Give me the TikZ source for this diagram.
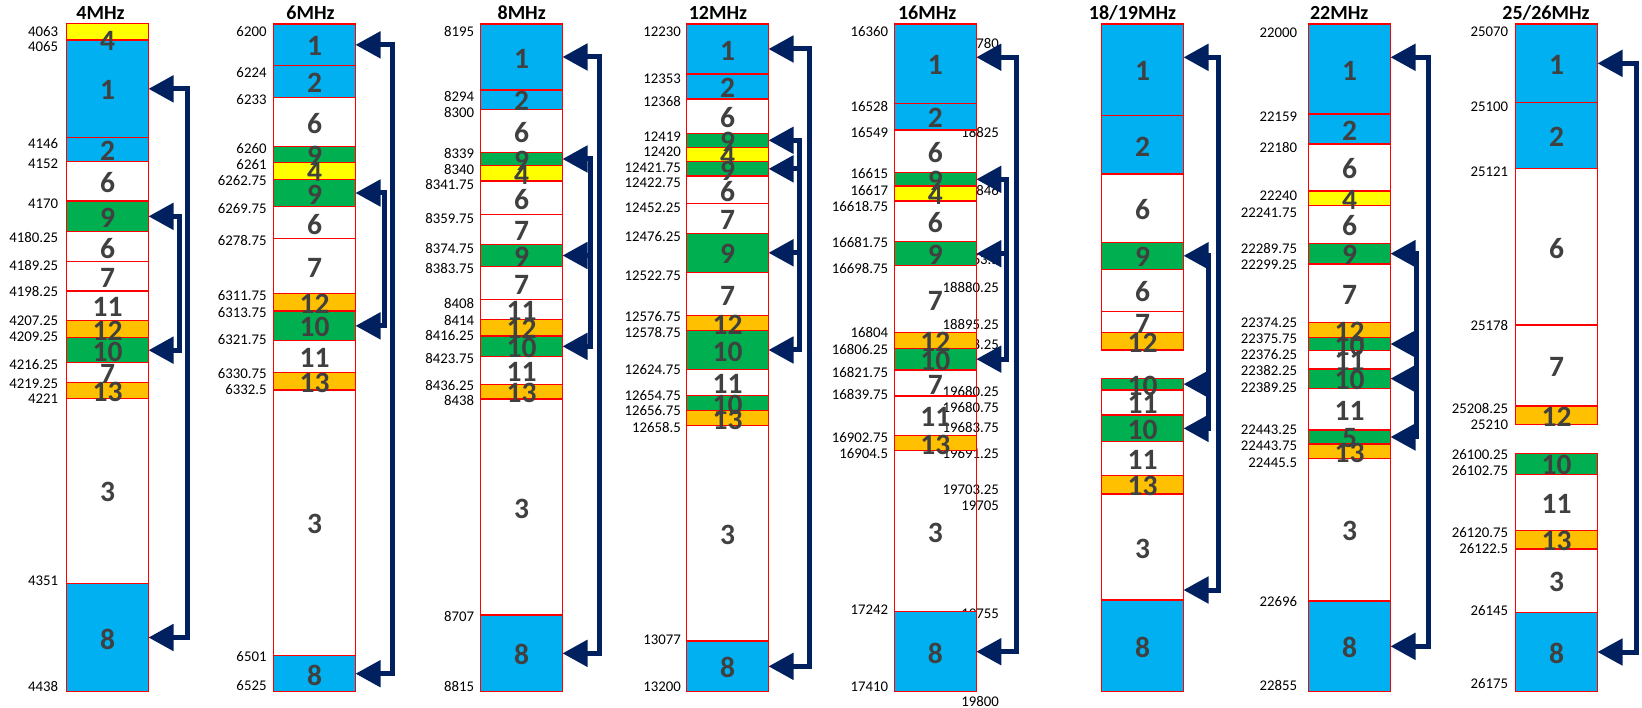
\documentclass[tikz,border=0pt]{standalone}
\usepackage{fontspec}
\setmainfont{Carlito}
\usetikzlibrary{arrows.meta}

\definecolor{segblue}{HTML}{00B0F0}
\definecolor{seggreen}{HTML}{00B050}
\definecolor{segyellow}{HTML}{FFFF00}
\definecolor{segorange}{HTML}{FFC000}
\definecolor{linkblue}{HTML}{002060}
\definecolor{numgray}{HTML}{404040}
\definecolor{edgered}{HTML}{FF0000}

\tikzset{
  seg/.style={draw=edgered, line width=1.5pt, inner sep=0pt, outer sep=0pt, minimum width=82pt},
  segnum/.style={font=\bfseries\fontsize{29.5}{30}\selectfont, text=numgray, inner sep=0pt},
  freq/.style={font=\fontsize{14.8}{15}\selectfont, anchor=east, inner sep=0pt},
  band/.style={font=\bfseries\fontsize{20}{22}\selectfont, anchor=base, inner sep=0pt},
  link/.style={draw=linkblue, line width=5pt, line join=miter},
  both/.style={link, {Triangle[length=25pt,width=26pt]}-{Triangle[length=25pt,width=26pt]}},
  single/.style={link, -{Triangle[length=25pt,width=26pt]}},
}

% one column of channel segments: name prefix, left x, list top/bottom/fill/number/extra drop
\newcommand\bandcolumn[3]{%
  \foreach \segtop/\segbot/\segfill/\segtxt/\segoff [count=\i] in {#3} {
    \node[seg, fill=\segfill, minimum height={(\segbot-\segtop)*1pt}]
      (#1s\i) at ({#2+41},{(\segtop+\segbot)/2}) {};
  }
  \foreach \segtop/\segbot/\segfill/\segtxt/\segoff [count=\i] in {#3} {
    \node[segnum] (#1d\i) at ([yshift={-(1.5+\segoff)*1pt}]#1s\i.center) {\segtxt};
  }
}
% frequency marks: name prefix, right x, list value/y
\newcommand\freqmarks[3]{%
  \foreach \fval/\fy [count=\i] in {#3} {
    \node[freq] (#1f\i) at (#2,\fy) {\fval};
  }
}

\begin{document}
\begin{tikzpicture}[x=1pt,y=-1pt]
\useasboundingbox (0,0) rectangle (1642,708);

% band titles
\node[band] (t1) at (100.5,19.7) {4MHz};
\node[band] (t2) at (310.5,19.7) {6MHz};
\node[band] (t3) at (521.7,19.7) {8MHz};
\node[band] (t4) at (718,19.7) {12MHz};
\node[band] (t5) at (927.2,19.7) {16MHz};
\node[band] (t6) at (1132.5,19.7) {18/19MHz};
\node[band] (t7) at (1339.2,19.7) {22MHz};
\node[band] (t8) at (1546,19.7) {25/26MHz};

% frequency marks
\freqmarks{c1}{58.3}{4063/31.7, 4065/46.7, 4146/143.3, 4152/164, 4170/203.3, 4180.25/237.3, 4189.25/265.7, 4198.25/291.7, 4207.25/321, 4209.25/336.7, 4216.25/364.3, 4219.25/383.3, 4221/399, 4351/581, 4438/686.7}
\freqmarks{c2}{266.7}{6200/31.7, 6224/72.7, 6233/99.3, 6260/148.3, 6261/164.3, 6262.75/181, 6269.75/209, 6278.75/240.7, 6311.75/296, 6313.75/312.7, 6321.75/340, 6330.75/373.3, 6332.5/390, 6501/656.7, 6525/686}
\freqmarks{c3}{474.3}{8195/31.7, 8294/96.7, 8300/112.7, 8339/153.3, 8340/169.3, 8341.75/185, 8359.75/218.3, 8374.75/248.3, 8383.75/268.3, 8408/304, 8414/320.7, 8416.25/336, 8423.75/358.3, 8436.25/385.7, 8438/401, 8707/616, 8815/686.7}
\freqmarks{c4}{681}{12230/31.7, 12353/78.3, 12368/101.7, 12419/136.7, 12420/151.7, 12421.75/167.3, 12422.75/182.7, 12452.25/207.3, 12476.25/236.7, 12522.75/276, 12576.75/316.7, 12578.75/332.7, 12624.75/369.3, 12654.75/396, 12656.75/411, 12658.5/427.7, 13077/639.3, 13200/686.7}
\freqmarks{c5}{888.3}{16360/31.7, 16528/106.7, 16549/132.7, 16615/174, 16617/190.7, 16618.75/206.7, 16681.75/242.7, 16698.75/268.3, 16804/332.7, 16806.25/349.3, 16821.75/372.7, 16839.75/395, 16902.75/437.7, 16904.5/454, 17242/609.3, 17410/686.7}
% 18/19MHz marks, set under the 16MHz column
\freqmarks{c6}{999}{18780/44, 18825/132.7, 18846/190.7, 18863.5/260, 18880.25/287.3, 18895.25/325, 18898.25/345, 19680.25/391.7, 19680.75/407.3, 19683.75/427.3, 19691.25/454, 19703.25/489.3, 19705/506, 19755/614, 19800/701.7}
\freqmarks{c7}{1297.3}{22000/32.3, 22159/116.7, 22180/147.7, 22240/196, 22241.75/212.3, 22289.75/248.3, 22299.25/265, 22374.25/322.7, 22375.75/339, 22376.25/354.3, 22382.25/370.7, 22389.25/387.3, 22443.25/430, 22443.75/446, 22445.5/462.8, 22696/601.7, 22855/685}
\freqmarks{c8}{1508.3}{25070/31.7, 25100/106.7, 25121/171.7, 25178/326, 25208.25/408.3, 25210/424.3, 26100.25/454.7, 26102.75/470.7, 26120.75/532.3, 26122.5/549, 26145/611, 26175/683.3}

% channel columns
\bandcolumn{c1}{66.5}{23.3/40/segyellow/4/8, 40/137.7/segblue/1/0, 137.7/161.7/segblue/2/0, 161.7/201/none/6/0, 201/231.7/seggreen/9/0, 231.7/261.7/none/6/0, 261.7/291/none/7/0, 291/320.7/none/11/0, 320.7/337.7/segorange/12/0, 337.7/362.7/seggreen/10/0, 362.7/382.3/none/7/0, 382.3/398.3/segorange/13/0, 398.3/583.3/none/3/0, 583.3/691.7/segblue/8/0}
\bandcolumn{c2}{273.5}{24/65.7/segblue/1/0, 65.7/97.7/segblue/2/0, 97.7/146.7/none/6/0, 146.7/162.3/seggreen/9/0, 162.3/179.3/segyellow/4/0, 179.3/206.7/seggreen/9/0, 206.7/238.7/none/6/0, 238.7/293.3/none/7/0, 293.3/311/segorange/12/0, 311/340.7/seggreen/10/0, 340.7/372.7/none/11/0, 372.7/390/segorange/13/0, 390/655.7/none/3/0, 655.7/691.7/segblue/8/0}
\bandcolumn{c3}{480.5}{24/90/segblue/1/0, 90/109.3/segblue/2/0, 109.3/152.3/none/6/0, 152.3/165.7/seggreen/9/0, 165.7/181/segyellow/4/0, 181/214.3/none/6/0, 214.3/244.3/none/7/0, 244.3/266.7/seggreen/9/0, 266.7/299.3/none/7/0, 299.3/319.3/none/11/0, 319.3/336/segorange/12/0, 336/356.7/seggreen/10/0, 356.7/384.3/none/11/0, 384.3/399/segorange/13/0, 399/615/none/3/0, 615/691.7/segblue/8/0}
\bandcolumn{c4}{686.5}{24/74/segblue/1/0, 74/99/segblue/2/0, 99/133.3/none/6/0, 133.3/147.3/seggreen/9/0, 147.3/161.7/segyellow/4/0, 161.7/176/seggreen/9/0, 176/203.3/none/6/0, 203.3/233.3/none/7/0, 233.3/272.3/seggreen/9/0, 272.3/315.7/none/7/0, 315.7/330.7/segorange/12/0, 330.7/369.3/seggreen/10/0, 369.3/395.7/none/11/0, 395.7/410.7/seggreen/10/0, 410.7/425.7/segorange/13/0, 425.7/641/none/3/0, 641/691.7/segblue/8/0}
\bandcolumn{c5}{894.3}{24/103.3/segblue/1/0, 103.3/130/segblue/2/0, 130/172.7/none/6/0, 172.7/186/seggreen/9/0, 186/201/segyellow/4/0, 201/241.7/none/6/0, 241.7/265.7/seggreen/9/0, 265.7/332.7/none/7/0, 332.7/348.3/segorange/12/0, 348.3/370/seggreen/10/0, 370/396/none/7/0, 396/435.7/none/11/0, 435.7/450.7/segorange/13/0, 450.7/611.7/none/3/0, 611.7/691.7/segblue/8/0}
\bandcolumn{c6}{1101.5}{24/115.7/segblue/1/0, 115.7/174/segblue/2/0, 174/242.3/none/6/0, 242.3/269.3/seggreen/9/0, 269.3/311.7/none/6/0, 311.7/332.7/none/7/0, 332.7/350/segorange/12/0, 378.3/390/seggreen/10/0, 390/415/none/11/0, 415/441.7/seggreen/10/0, 441.7/475.7/none/11/0, 475.7/494/segorange/13/0, 494/600/none/3/0, 600/691.7/segblue/8/0}
\bandcolumn{c7}{1308.5}{24/114/segblue/1/0, 114/144/segblue/2/0, 144/191/none/6/0, 191/205.7/segyellow/4/0, 205.7/243.3/none/6/0, 243.3/264/seggreen/9/0, 264/322.7/none/7/0, 322.7/337.3/segorange/12/0, 337.3/350.7/seggreen/10/0, 350.7/369/none/11/0, 369/388.3/seggreen/10/0, 388.3/430/none/11/0, 430/444/seggreen/5/0, 444/458.3/segorange/13/0, 458.3/601/none/3/0, 601/691.7/segblue/8/0}
\bandcolumn{c8}{1515.5}{24/102.7/segblue/1/0, 102.7/168.3/segblue/2/0, 168.3/325/none/6/0, 325/406/none/7/0, 406/424.3/segorange/12/0, 453.3/474.3/seggreen/10/0, 474.3/530.7/none/11/0, 530.7/549/segorange/13/0, 549/612.3/none/3/0, 612.3/691.7/segblue/8/0}

% links: 4MHz
\draw[both] (c1s2.east) -- ++(38.5,0) |- (c1s14.east);
\draw[both] (c1s5.east) -- ++(30.5,0) |- (c1s10.east);
% 6MHz
\draw[both] (c2s1.east) -- ++(37.2,0) |- (c2s14.east);
\draw[both] (c2s6.east) -- ++(28.5,0) |- (c2s10.east);
% 8MHz
\draw[both] (c3s1.east) -- ++(36.5,0) |- (c3s16.east);
\draw[both] (c3s4.east) -- ++(27.5,0) |- (c3s12.east);
\coordinate (c3v) at ([xshift=27.5pt]c3s4.east);
\draw[single] (c3v |- c3s8.east) -- (c3s8.east);
% 12MHz
\draw[both] (c4s1.east) -- ++(40.8,0) |- (c4s17.east);
\draw[both] (c4s4.east) -- ++(30.5,0) |- (c4s12.east);
\coordinate (c4v) at ([xshift=30.5pt]c4s4.east);
\draw[single] (c4v |- c4s6.east) -- (c4s6.east);
\draw[single] (c4v |- c4s9.east) -- (c4s9.east);
% 16MHz
\draw[both] ([yshift=6.4pt]c5s1.east) -- ++(39.7,0) |- (c5s15.east);
\draw[both] (c5s4.east) -- ++(29.7,0) |- (c5s10.east);
\coordinate (c5v) at ([xshift=29.7pt]c5s4.east);
\draw[single] (c5v |- c5s7.east) -- (c5s7.east);
% 18/19MHz
\draw[both] ([yshift=12.5pt]c6s1.east) -- ++(34.8,0) |- ([yshift=-43pt]c6s13.east);
\draw[both] (c6s4.east) -- ++(24.8,0) |- (c6s10.east);
\coordinate (c6v) at ([xshift=24.8pt]c6s4.east);
\draw[single] (c6v |- c6s8.east) -- (c6s8.east);
% 22MHz
\draw[both] ([yshift=11.7pt]c7s1.east) -- ++(37.8,0) |- (c7s16.east);
\draw[both] (c7s6.east) -- ++(26.2,0) |- (c7s13.east);
\coordinate (c7v) at ([xshift=26.2pt]c7s6.east);
\draw[single] (c7v |- c7s9.east) -- (c7s9.east);
\draw[single] (c7v |- c7s11.east) -- (c7s11.east);
% 25/26MHz
\draw[both] (c8s1.east) -- ++(38.5,0) |- (c8s10.east);
\end{tikzpicture}
\end{document}
